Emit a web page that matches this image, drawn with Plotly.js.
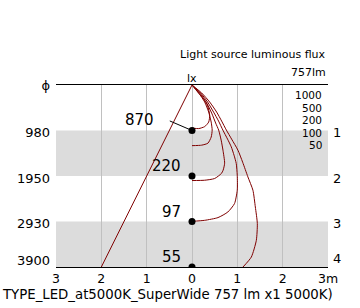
<!DOCTYPE html>
<html>
<head>
<meta charset="utf-8">
<script src="https://cdn.plot.ly/plotly-3.0.1.min.js"></script>
<style>html,body{margin:0;padding:0;background:#fff;}#chart{width:360px;height:308px;}</style>
</head>
<body>
<div id="chart"></div>
<script>
// ---- data ----
const distances = [1, 2, 3, 4];                 // m
const diameters = ['980', '1950', '2930', '3900']; // beam diameter (mm)
const centerLux = ['870', '220', '97', '55'];    // lx on axis
const rightLabels = ['1', '2', '3', '4'];
const xTickVals = [-3, -2, -1, 0, 1, 2, 3];
const xTickText = ['3', '2', '1', '0', '1', '2', '3m'];
const isoLevels = ['1000', '500', '200', '100', '50'];
const fluxText = '757lm';
const footer = 'TYPE_LED_at5000K_SuperWide 757 lm x1 5000K)';

// beam-angle line (x m, depth m)
const beamX = [0, -2];
const beamY = [0, 4];
// leader for first label
const leaderX = [-0.49, 0];
const leaderY = [0.79, 1];

// isolux curves (x m, depth m)
const iso1000X = [0, 0.126, 0.257, 0.345, 0.390, 0.368, 0.280, 0.148, 0];
const iso1000Y = [0, 0.154, 0.308, 0.463, 0.661, 0.815, 0.914, 0.958, 0.947];
const iso500X = [0, 0.148, 0.280, 0.368, 0.423, 0.445, 0.423, 0.352, 0.214, 0];
const iso500Y = [0, 0.176, 0.374, 0.595, 0.815, 0.991, 1.145, 1.278, 1.322, 1.333];
const iso200X = [0, 0.170, 0.324, 0.434, 0.522, 0.588, 0.643, 0.683, 0.720, 0.687, 0.648, 0.500, 0.280, 0];
const iso200Y = [0, 0.176, 0.396, 0.617, 0.837, 0.991, 1.211, 1.432, 1.718, 1.872, 1.945, 2.055, 2.093, 2.100];
const iso100X = [0, 0.192, 0.344, 0.476, 0.586, 0.681, 0.784, 0.866, 0.927, 0.976, 0.998, 0.998, 0.938, 0.791, 0.573, 0.280, 0];
const iso100Y = [0, 0.176, 0.374, 0.595, 0.793, 0.991, 1.189, 1.359, 1.542, 1.725, 1.982, 2.313, 2.606, 2.791, 2.914, 2.974, 2.996];
const iso50X = [0, 0.214, 0.390, 0.544, 0.654, 0.758, 0.874, 1.013, 1.117, 1.233, 1.344, 1.397, 1.441, 1.419, 1.308, 1.123];
const iso50Y = [0, 0.176, 0.374, 0.595, 0.793, 0.991, 1.189, 1.432, 1.696, 2.020, 2.313, 2.681, 3.046, 3.414, 3.782, 4.002];

// ---- chart ----
const RED = '#7f0000';
const FONT = 'DejaVu Sans';
const isoSets = [[iso1000X, iso1000Y], [iso500X, iso500Y], [iso200X, iso200Y], [iso100X, iso100Y], [iso50X, iso50Y]];
// label positions: just below each level, last one kept above the bottom axis
const leftLabelPos = [0, 1.05, 2.05, 3.05, 3.85];
const rightLabelPos = [1.05, 2.05, 3.05, 3.81];

const traces = [];
isoSets.forEach(function (s) {
  traces.push({x: s[0], y: s[1], type: 'scatter', mode: 'lines', line: {color: RED, width: 1, shape: 'spline', smoothing: 0.6}, hoverinfo: 'skip', showlegend: false});
});
traces.push({x: beamX, y: beamY, type: 'scatter', mode: 'lines', line: {color: RED, width: 1}, showlegend: false, hoverinfo: 'skip'});
traces.push({x: leaderX, y: leaderY, type: 'scatter', mode: 'lines', line: {color: '#000', width: 1}, showlegend: false, hoverinfo: 'skip'});
traces.push({x: distances.map(function () { return 0; }), y: distances, type: 'scatter', mode: 'markers', cliponaxis: true, marker: {color: '#000', size: 7}, showlegend: false, hoverinfo: 'skip'});
// anchor trace for the label-only overlay axes
traces.push({x: [0], y: [0], xaxis: 'x2', yaxis: 'y2', type: 'scatter', mode: 'markers', marker: {size: 0.1, opacity: 0}, showlegend: false, hoverinfo: 'skip'});

const shapes = [[1, 2], [3, 4]].map(function (b) {
  return {type: 'rect', xref: 'x', yref: 'y', x0: -3, x1: 3, y0: b[0], y1: b[1], fillcolor: '#dcdcdc', line: {width: 0}, layer: 'below'};
});

const annotations = [];
const labelRight = [-0.80, -0.205, -0.205, -0.205];
const labelY = [0.78, 1.77, 2.79, 3.78];
centerLux.forEach(function (t, i) {
  annotations.push({x: labelRight[i], y: labelY[i], xref: 'x', yref: 'y', text: t, showarrow: false, xanchor: 'right', yanchor: 'middle', font: {family: FONT, size: 15, color: '#000'}});
});
isoLevels.forEach(function (t, i) {
  annotations.push({x: 2.92, y: 0.22 + i * 0.275, xref: 'x', yref: 'y', text: t, showarrow: false, xanchor: 'right', yanchor: 'middle', font: {family: FONT, size: 10.5, color: '#000'}});
});
annotations.push({x: 1, y: 1.165, xref: 'paper', yref: 'paper', text: 'Light source luminous flux', showarrow: false, xanchor: 'right', yanchor: 'middle', font: {family: FONT, size: 11, color: '#000'}});
annotations.push({x: 1, y: 1.066, xref: 'paper', yref: 'paper', text: fluxText, showarrow: false, xanchor: 'right', yanchor: 'middle', font: {family: FONT, size: 11, color: '#000'}});
annotations.push({x: 0.5, y: 1.038, xref: 'paper', yref: 'paper', text: 'lx', showarrow: false, xanchor: 'center', yanchor: 'middle', font: {family: FONT, size: 11, color: '#000'}});
annotations.push({x: -0.206, y: -0.152, xref: 'paper', yref: 'paper', text: footer, showarrow: false, xanchor: 'left', yanchor: 'middle', font: {family: FONT, size: 13.3, color: '#000'}});

const layout = {
  width: 360, height: 308,
  margin: {l: 56, r: 32, t: 85, b: 41, pad: 0},
  paper_bgcolor: '#fff', plot_bgcolor: '#fff',
  showlegend: false,
  font: {family: FONT, color: '#000'},
  xaxis: {range: [-3, 3], tickmode: 'array', tickvals: [-2, -1, 0, 1, 2], showticklabels: false, showgrid: true, gridcolor: '#c0c0c0', gridwidth: 1, zeroline: false, showline: true, mirror: true, linecolor: '#000', linewidth: 1, ticks: '', fixedrange: true},
  xaxis2: {range: [-3, 3], overlaying: 'x', side: 'bottom', anchor: 'y', tickmode: 'array', tickvals: xTickVals, ticktext: xTickText, showgrid: false, zeroline: false, showline: false, ticks: '', ticklabelstandoff: 2, tickfont: {family: FONT, size: 12.5, color: '#000'}, fixedrange: true},
  yaxis: {range: [4, 0], tickmode: 'array', tickvals: leftLabelPos, ticktext: ['ϕ'].concat(diameters), showgrid: false, zeroline: false, showline: false, ticks: '', ticklabelstandoff: 5, tickfont: {family: FONT, size: 13, color: '#000'}, fixedrange: true},
  yaxis2: {range: [4, 0], overlaying: 'y', side: 'right', anchor: 'x', tickmode: 'array', tickvals: rightLabelPos, ticktext: rightLabels, showgrid: false, zeroline: false, showline: false, ticks: '', ticklabelstandoff: 4, tickfont: {family: FONT, size: 13, color: '#000'}, fixedrange: true},
  shapes: shapes,
  annotations: annotations
};

Plotly.newPlot('chart', traces, layout, {displayModeBar: false, staticPlot: true});
</script>
</body>
</html>
